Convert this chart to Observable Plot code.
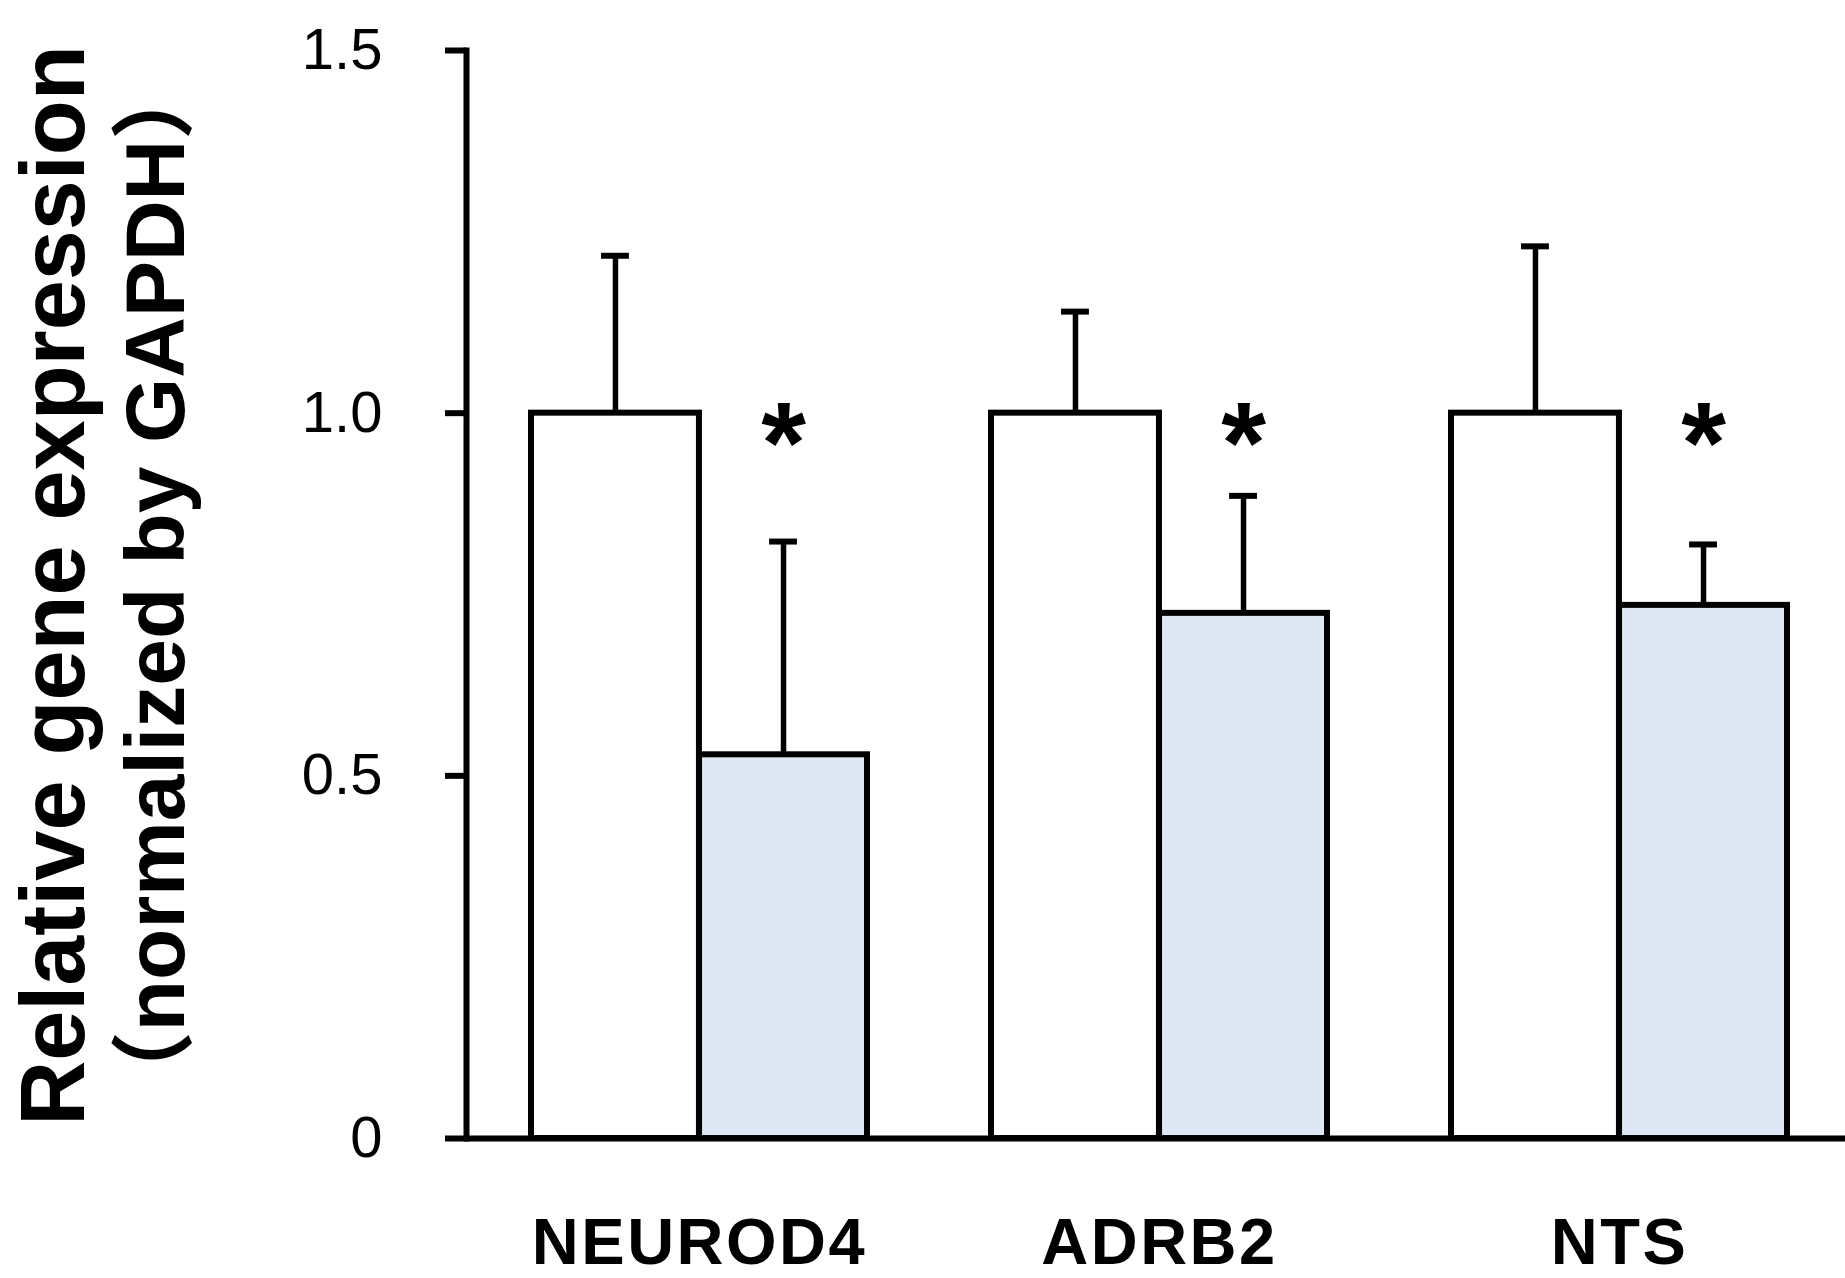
<!DOCTYPE html>
<html><head><meta charset="utf-8">
<script src="https://cdn.jsdelivr.net/npm/d3@7"></script>
<script src="https://cdn.jsdelivr.net/npm/@observablehq/plot@0.6"></script>
<style>html,body{margin:0;padding:0;background:#fff;} #chart svg{display:block;}
#chart svg g[aria-label="x-axis tick label"] text{letter-spacing:2.5px;}</style>
</head><body><div id="chart"></div>
<script>
const genes = ["NEUROD4", "ADRB2", "NTS"];
const controlMean = [1.0, 1.0, 1.0];
const controlErr = [0.217, 0.140, 0.230];
const treatedMean = [0.529, 0.724, 0.735];
const treatedErr = [0.294, 0.162, 0.084];
const significant = [true, true, true];
const yTicks = [0, 0.5, 1.0, 1.5];
const yTickLabels = ["0", "0.5", "1.0", "1.5"];
const yTitle = ["Relative gene expression", "（normalized by GAPDH）"];

const W = 1845, H = 1278, mL = 466, mR = 0, mT = 50, mB = 140;
const xPad = {paddingInner: 0.27, paddingOuter: 0.1325, align: 0.525};
const xs = d3.scaleBand(genes, [mL, W - mR]).paddingInner(xPad.paddingInner).paddingOuter(xPad.paddingOuter).align(xPad.align);
const bw = xs.bandwidth();
const half = bw / 2, q = bw / 4, capHalf = 14;
const sw = 6;

const control = genes.map((g, i) => ({gene: g, mean: controlMean[i], upper: controlMean[i] + controlErr[i]}));
const treated = genes.map((g, i) => ({gene: g, mean: treatedMean[i], upper: treatedMean[i] + treatedErr[i], ref: controlMean[i], sig: significant[i]}));

const chart = Plot.plot({
  width: W, height: H, marginLeft: mL, marginRight: mR, marginTop: mT, marginBottom: mB,
  style: {fontFamily: "Liberation Sans, Arial, sans-serif", color: "#000", background: "#fff"},
  x: {domain: genes, paddingInner: xPad.paddingInner, paddingOuter: xPad.paddingOuter, align: xPad.align, axis: null},
  y: {domain: [0, 1.5], axis: null},
  marks: [
    Plot.barY(control, {x: "gene", y: "mean", fill: "#ffffff", stroke: "#000", strokeWidth: sw, insetRight: half}),
    Plot.barY(treated, {x: "gene", y: "mean", fill: "#dde8f4", stroke: "#000", strokeWidth: sw, insetLeft: half}),
    Plot.ruleX(control, {x: "gene", y1: "mean", y2: "upper", dx: -q, stroke: "#000", strokeWidth: sw - 0.5}),
    Plot.tickY(control, {x: "gene", y: "upper", insetLeft: q - capHalf, insetRight: bw - q - capHalf, stroke: "#000", strokeWidth: sw}),
    Plot.ruleX(treated, {x: "gene", y1: "mean", y2: "upper", dx: q, stroke: "#000", strokeWidth: sw - 0.5}),
    Plot.tickY(treated, {x: "gene", y: "upper", insetLeft: 3 * q - capHalf, insetRight: q - capHalf, stroke: "#000", strokeWidth: sw}),
    Plot.text(treated.filter(d => d.sig), {x: "gene", y: "ref", text: () => "*", dx: q, dy: 32, fontSize: 115, fontWeight: "bold", fill: "#000"}),
    Plot.ruleY([0], {stroke: "#000", strokeWidth: sw}),
    Plot.frame({anchor: "left", stroke: "#000", strokeWidth: sw}),
    Plot.axisY({ticks: yTicks, tickFormat: d => yTickLabels[yTicks.indexOf(d)], tickSize: 21, tickPadding: 63, fontSize: 58, strokeWidth: sw, label: null}),
    Plot.axisX({tickSize: 0, tickPadding: 79, fontSize: 65, fontWeight: "bold", label: null}),
    Plot.text([yTitle[0]], {text: d => d, frameAnchor: "left", textAnchor: "middle", rotate: -90, dx: 55 - mL, dy: -9, fontSize: 90, fontWeight: "bold", fill: "#000"}),
    Plot.text([yTitle[1]], {text: d => d, frameAnchor: "left", textAnchor: "middle", rotate: -90, dx: 157 - mL, dy: -9, fontSize: 84, fontWeight: "bold", fill: "#000", fontFamily: "Liberation Sans, Noto Sans CJK JP, sans-serif"})
  ]
});
document.getElementById("chart").appendChild(chart);
</script>
</body></html>
